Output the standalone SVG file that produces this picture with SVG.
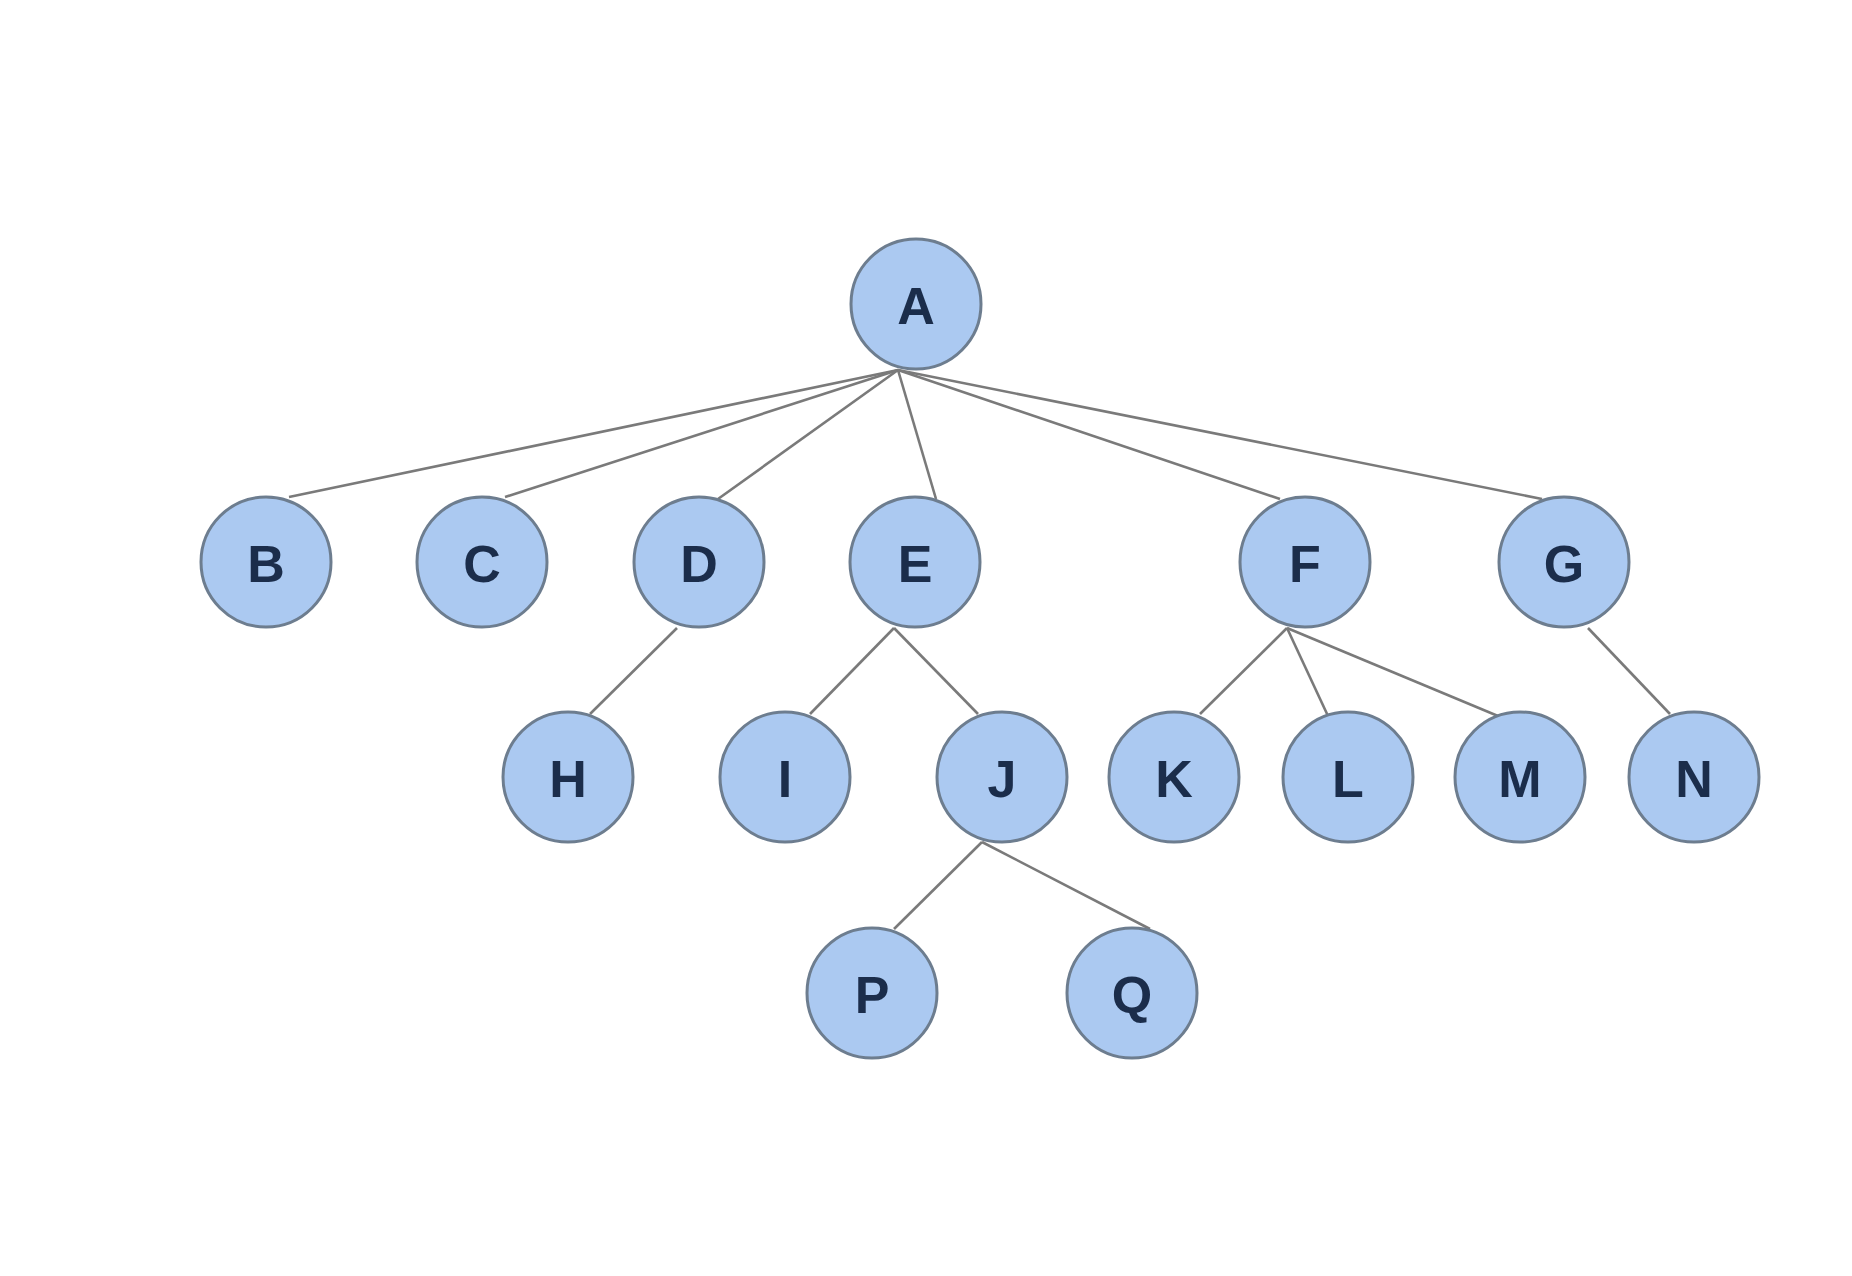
<svg xmlns="http://www.w3.org/2000/svg" width="1852" height="1276" viewBox="0 0 1852 1276">
<style>
.n circle{fill:#abc9f1;stroke:#6d7d8f;stroke-width:3}
.n text{font-family:"Liberation Sans",Arial,sans-serif;font-size:52px;font-weight:bold;fill:#1b2d4b;text-anchor:middle;dominant-baseline:central}
.e line{stroke:#7a7a7a;stroke-width:2.6}
</style>
<rect width="1852" height="1276" fill="#ffffff"/>
<g class="e" id="edges">
<line x1="898" y1="370" x2="289" y2="497"/>
<line x1="898" y1="370" x2="505" y2="497"/>
<line x1="898" y1="370" x2="718" y2="499"/>
<line x1="898" y1="370" x2="936" y2="499"/>
<line x1="898" y1="370" x2="1280" y2="499"/>
<line x1="898" y1="370" x2="1542" y2="499"/>
<line x1="677" y1="628" x2="590" y2="714"/>
<line x1="894" y1="628" x2="810" y2="714"/>
<line x1="894" y1="628" x2="978" y2="714"/>
<line x1="1287" y1="628" x2="1200" y2="714"/>
<line x1="1287" y1="628" x2="1328" y2="716"/>
<line x1="1287" y1="628" x2="1498" y2="716"/>
<line x1="1588" y1="628" x2="1670" y2="714"/>
<line x1="982" y1="842" x2="894" y2="929"/>
<line x1="982" y1="842" x2="1150" y2="929"/>
</g>
<g class="n" id="A"><circle cx="916" cy="304" r="65"/><text x="916" y="306">A</text></g>
<g class="n" id="B"><circle cx="266" cy="562" r="65"/><text x="266" y="564">B</text></g>
<g class="n" id="C"><circle cx="482" cy="562" r="65"/><text x="482" y="564">C</text></g>
<g class="n" id="D"><circle cx="699" cy="562" r="65"/><text x="699" y="564">D</text></g>
<g class="n" id="E"><circle cx="915" cy="562" r="65"/><text x="915" y="564">E</text></g>
<g class="n" id="F"><circle cx="1305" cy="562" r="65"/><text x="1305" y="564">F</text></g>
<g class="n" id="G"><circle cx="1564" cy="562" r="65"/><text x="1564" y="564">G</text></g>
<g class="n" id="H"><circle cx="568" cy="777" r="65"/><text x="568" y="779">H</text></g>
<g class="n" id="I"><circle cx="785" cy="777" r="65"/><text x="785" y="779">I</text></g>
<g class="n" id="J"><circle cx="1002" cy="777" r="65"/><text x="1002" y="779">J</text></g>
<g class="n" id="K"><circle cx="1174" cy="777" r="65"/><text x="1174" y="779">K</text></g>
<g class="n" id="L"><circle cx="1348" cy="777" r="65"/><text x="1348" y="779">L</text></g>
<g class="n" id="M"><circle cx="1520" cy="777" r="65"/><text x="1520" y="779">M</text></g>
<g class="n" id="N"><circle cx="1694" cy="777" r="65"/><text x="1694" y="779">N</text></g>
<g class="n" id="P"><circle cx="872" cy="993" r="65"/><text x="872" y="995">P</text></g>
<g class="n" id="Q"><circle cx="1132" cy="993" r="65"/><text x="1132" y="995">Q</text></g>
</svg>
